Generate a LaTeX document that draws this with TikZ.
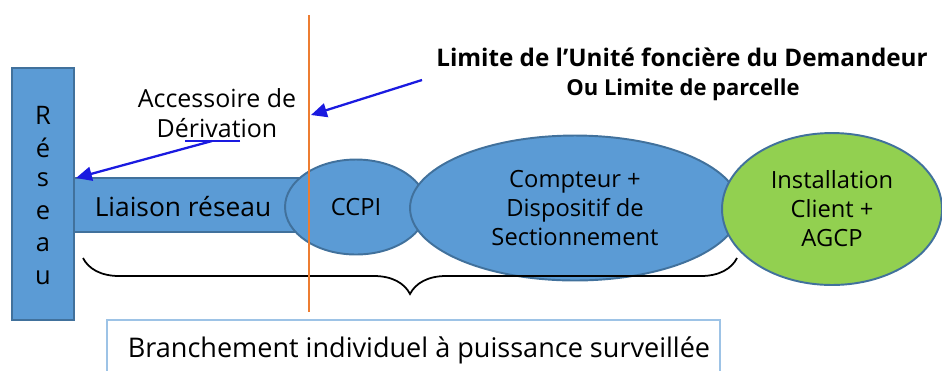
\documentclass[tikz,border=0pt]{standalone}
\usepackage{fontspec}
\setmainfont{Open Sans}
\usetikzlibrary{shapes.geometric,decorations.pathreplacing,arrows.meta}
\definecolor{bleu}{HTML}{5B9BD5}
\definecolor{bordbleu}{HTML}{41719C}
\definecolor{vert}{HTML}{92D050}
\definecolor{orange}{HTML}{ED7D31}
\definecolor{fleche}{HTML}{1A1AE0}
\definecolor{cadre}{HTML}{9DC3E6}
\tikzset{
  bloc/.style={fill=bleu,draw=bordbleu,line width=1.1pt},
  bulle/.style={ellipse,bloc,inner sep=0pt,align=center,font=\fontsize{13.5}{16.5}\selectfont},
  fleche/.style={-{Triangle[length=9pt,width=8pt]},draw=fleche,fill=fleche,line width=1.3pt}
}

\begin{document}
\begin{tikzpicture}[x=0.02cm,y=-0.02cm]
   \useasboundingbox (0,0) rectangle (942,370);

   % reseau
   \draw[bloc] (12,68) rectangle (74,320);
   \foreach \l [count=\i] in {R,é,s,e,a,u}
     \node[font=\fontsize{14.5}{18}\selectfont] (r\i) at (43,115+32.5*\i-32.5) {\l};

   % liaison
   \draw[bloc] (74,178) rectangle (310,232);
   \node[font=\fontsize{15}{18}\selectfont] (liaison) at (183,207) {Liaison réseau};

   % ellipses
   \node[bulle,minimum width=2.84cm,minimum height=1.9cm] (ccpi) at (356,207) {CCPI};
   \node[bulle,minimum width=6.6cm,minimum height=2.9cm] (compteur) at (575,208)
     {Compteur +\\Dispositif de\\Sectionnement};
   \node[bulle,fill=vert,minimum width=4.4cm,minimum height=3.04cm] (install) at (832,209)
     {Installation\\Client +\\AGCP};

   % accolade
   \draw[line width=1pt,decorate,decoration={brace,mirror,amplitude=0.72cm}] (83,258) -- (737,258);

   % limite
   \draw[orange,line width=1.6pt] (309,15) -- (309,312);

   % textes
   \node[align=center,font=\fontsize{14.2}{17}\selectfont] (deriv) at (217,113) {Accessoire de\\Dérivation};
   \node[font=\bfseries\fontsize{13.8}{16}\selectfont] (limite) at (682,57) {Limite de l’Unité foncière du Demandeur};
   \node[font=\bfseries\fontsize{12.5}{14}\selectfont] (parcelle) at (683,90) {Ou Limite de parcelle};

   % fleches
   \coordinate (d0) at (212,141);
   \coordinate (d1) at (76,178);
   \coordinate (p0) at (422,80);
   \coordinate (p1) at (311,115);
   \draw[fleche,-] (185,141) -- (240,141);
   \draw[fleche] (d0) -- (d1);
   \draw[fleche] (p0) -- (p1);

   % cadre
   \draw[cadre,line width=1.2pt,fill=white] (107,320) rectangle (720,378);
   \node[font=\fontsize{15.4}{17}\selectfont] (branch) at (419,350) {Branchement individuel à puissance surveillée};
\end{tikzpicture}
\end{document}
